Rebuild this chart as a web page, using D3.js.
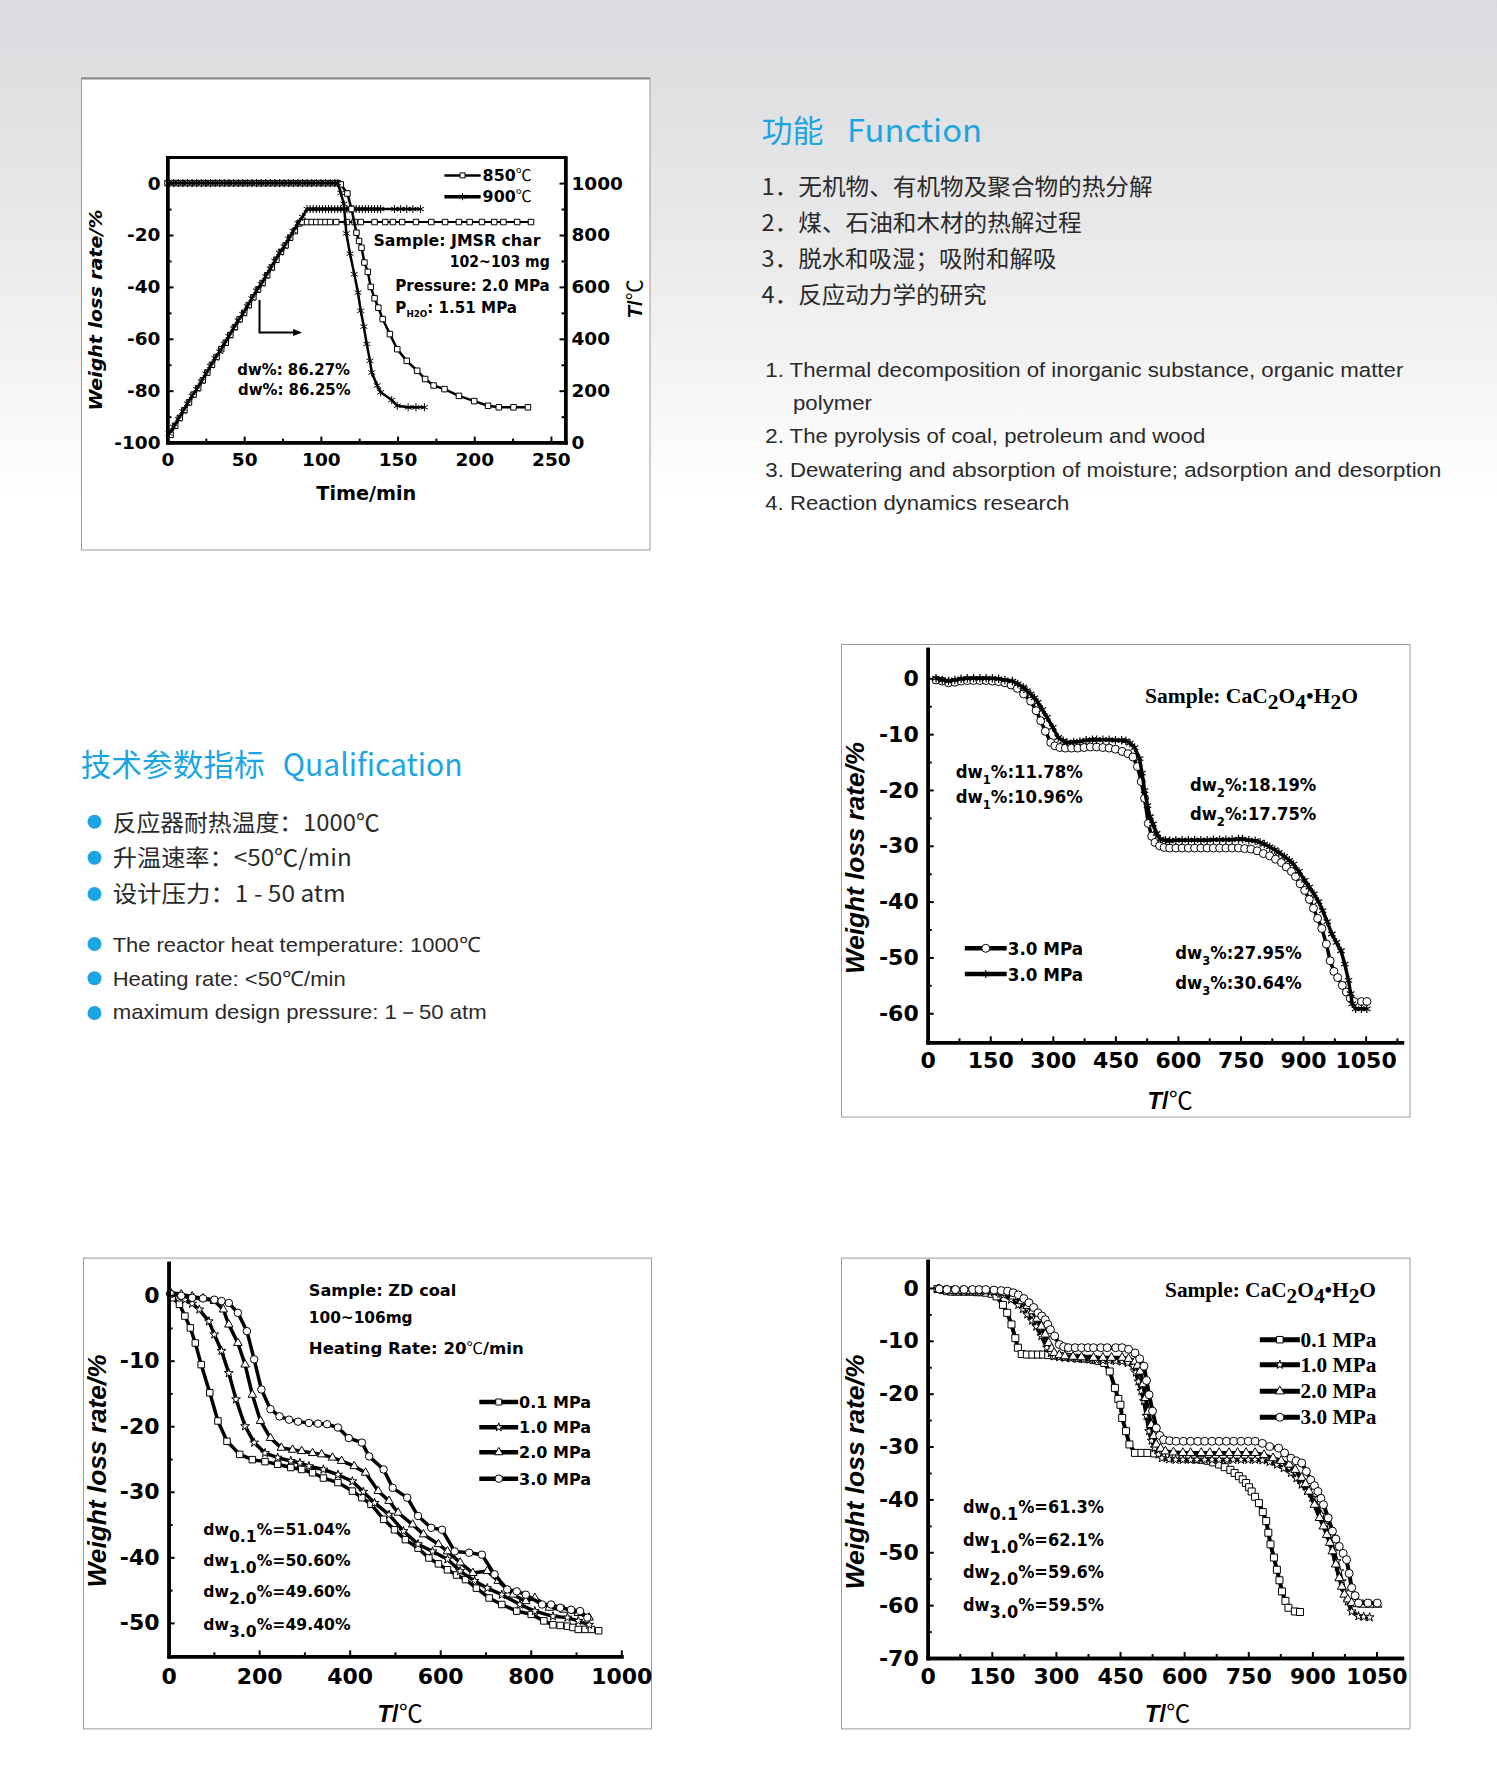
<!DOCTYPE html>
<html><head><meta charset="utf-8">
<script src="https://cdn.jsdelivr.net/npm/d3@7"></script>
<style>html,body{margin:0;padding:0;background:#fff}svg{display:block}</style>
</head><body>
<svg id="page" width="1497" height="1788"></svg>
<script>
// ---------------- page text ----------------
const funcTitleZh = "功能", funcTitleEn = "Function";
const funcZh = ["1．无机物、有机物及聚合物的热分解", "2．煤、石油和木材的热解过程", "3．脱水和吸湿；吸附和解吸", "4．反应动力学的研究"];
const funcEn = ["1. Thermal decomposition of inorganic substance, organic matter", "polymer", "2. The pyrolysis of coal, petroleum and wood", "3. Dewatering and absorption of moisture; adsorption and desorption", "4. Reaction dynamics research"];
const qualTitleZh = "技术参数指标", qualTitleEn = "Qualification";
const qualZh = ["反应器耐热温度：1000℃", "升温速率：<50℃/min", "设计压力：1 - 50 atm"];
const qualEn = ["The reactor heat temperature: 1000℃", "Heating rate: <50℃/min", "maximum design pressure: 1－50 atm"];

// ---------------- chart 1 : JMSR char (time, weight / temperature) ----------------
const c1XTicks = [0, 50, 100, 150, 200, 250];
const c1XMinor = [25, 75, 125, 175, 225];
const c1YTicks = [0, -20, -40, -60, -80, -100];
const c1YMinor = [-10, -30, -50, -70, -90];
const c1TTicks = [0, 200, 400, 600, 800, 1000];
const c1TMinor = [100, 300, 500, 700, 900];
const c1Legend = ["850℃", "900℃"];
const c1W850 = [[0,0],[3,0],[6,0],[9,0],[12,0],[15,0],[18,0],[21,0],[24,0],[27,0],[30,0],[33,0],[36,0],[39,0],[42,0],[45,0],[48,0],[51,0],[54,0],[57,0],[60,0],[63,0],[66,0],[69,0],[72,0],[75,0],[78,0],[81,0],[84,0],[87,0],[90,0],[93,0],[96,0],[99,0],[102,0],[105,0],[108,0],[111,0],[113,-0.5],[117.3,-4],[120,-10],[123.2,-19.1],[124.9,-22.3],[126.5,-24.9],[128.4,-30.6],[130.6,-34.2],[132.5,-40],[135,-44.4],[137.5,-48],[140.3,-52.4],[145,-58.2],[149.8,-64],[156,-68.5],[162.8,-72.3],[168,-75.5],[173.5,-78],[180.6,-79.4],[190,-82],[200,-84],[209,-85.8],[216,-86.4],[225.6,-86.4],[235,-86.4]];
const c1W900 = [[1,0],[4,0],[7,0],[10,0],[13,0],[16,0],[19,0],[22,0],[25,0],[28,0],[31,0],[34,0],[37,0],[40,0],[43,0],[46,0],[49,0],[52,0],[55,0],[58,0],[61,0],[64,0],[67,0],[70,0],[73,0],[76,0],[79,0],[82,0],[85,0],[88,0],[91,0],[94,0],[97,0],[100,0],[103,0],[106,0],[109,0],[111,0],[113,-3.8],[115,-8],[116.6,-19.4],[119,-27.2],[121.8,-35.1],[124.2,-42.2],[126,-49.2],[128,-55.3],[129.9,-62],[132,-68.5],[133.2,-73],[136.7,-78],[139,-80.6],[146.2,-83.6],[149.8,-85.8],[156.9,-86.4],[162,-86.4],[167.5,-86.4]];
const c1T850 = [[2,30],[5,65],[8,95],[11,125],[14,155],[17,185],[20,210],[23,240],[26,270],[29,300],[32,330],[35,360],[38,385],[41,415],[44,445],[47,475],[50,500],[53,530],[56,560],[59,590],[62,615],[65,645],[68,675],[71,705],[74,735],[77,760],[80,790],[83,815],[86,845],[88,850],[91,850],[94,850],[97,850],[100,850],[103,850],[106,850],[110,850],[117,850],[122,850],[126,850],[135,850],[142,850],[147,850],[153,850],[162,850],[172,850],[181,850],[190,850],[197,850],[205,850],[213,850],[219,850],[228,850],[237,850]];
const c1T900 = [[1,35],[4,60],[7,90],[10,120],[13,150],[16,180],[19,205],[22,235],[25,265],[28,295],[31,325],[34,350],[37,380],[40,410],[43,440],[46,470],[49,495],[52,525],[55,555],[58,585],[61,610],[64,640],[67,670],[70,700],[73,730],[76,755],[79,785],[82,815],[85,845],[88,870],[91,900],[93,900],[95,900],[97,900],[99,900],[101,900],[103,900],[105,900],[107,900],[109,900],[111,900],[113,900],[115,900],[117,900],[119,900],[121,900],[123,900],[125,900],[127,900],[129,900],[131,900],[133,900],[135,900],[137,900],[139,900],[148,900],[152,900],[156,900],[160,900],[165,900]];
const c1Arrow = [[60,-45],[60,-57.6],[85.8,-57.6]];

// ---------------- chart 2 : CaC2O4·H2O, 3.0 MPa twice ----------------
const c2XTicks = [0, 150, 300, 450, 600, 750, 900, 1050];
const c2XMinor = [75, 225, 375, 525, 675, 825, 975, 1125];
const c2YTicks = [0, -10, -20, -30, -40, -50, -60];
const c2YMinor = [-5, -15, -25, -35, -45, -55];
const c2Legend = ["3.0 MPa", "3.0 MPa"];
const c2Circ = [[20,-0.3],[35,-0.5],[50,-0.8],[65,-0.7],[80,-0.5],[95,-0.4],[110,-0.4],[125,-0.4],[140,-0.4],[155,-0.5],[170,-0.6],[185,-0.8],[200,-1.2],[215,-1.8],[230,-2.8],[247,-4.1],[260,-5.8],[271,-7.6],[282,-9.5],[295,-11.5],[305,-12.1],[317,-12.4],[330,-12.5],[345,-12.5],[360,-12.5],[375,-12.4],[390,-12.3],[405,-12.3],[420,-12.4],[435,-12.5],[450,-12.7],[466,-13.1],[480,-13.5],[492,-14.1],[503,-15.8],[512,-18.5],[520,-21.5],[529,-26],[537,-28.3],[545,-29.4],[556,-30],[567,-30.3],[580,-30.4],[595,-30.4],[610,-30.4],[625,-30.4],[640,-30.4],[655,-30.4],[670,-30.4],[685,-30.4],[700,-30.4],[715,-30.4],[730,-30.4],[745,-30.4],[760,-30.5],[775,-30.6],[790,-30.9],[805,-31.4],[820,-31.8],[834,-32.4],[848,-33],[860,-33.8],[872,-34.6],[882,-35.5],[893,-36.8],[904,-38],[915,-39.6],[925,-41.2],[935,-43],[945,-44.8],[956,-47.6],[965,-50.6],[974,-52.5],[983,-53.6],[994,-55],[1004,-56.2],[1013,-57.3],[1022,-57.9],[1040,-57.9],[1053,-57.9]];
const c2Ast = [[20,0],[35,-0.3],[50,-0.5],[65,-0.3],[80,-0.1],[95,0],[110,0],[125,0],[140,0],[155,0],[170,-0.1],[185,-0.3],[203,-0.5],[216,-1],[229,-1.6],[238,-2.2],[247,-2.8],[256,-3.5],[264,-4.3],[275,-5.6],[286,-7],[300,-8.8],[313,-10.6],[325,-11.2],[334,-11.5],[350,-11.4],[365,-11.3],[380,-11.1],[395,-11],[405,-11],[420,-11],[435,-11],[450,-11.1],[465,-11.1],[475,-11.2],[485,-11.6],[496,-12.4],[508,-14.4],[514,-17],[520,-20.1],[527,-22.8],[533,-24.8],[540,-26.1],[549,-27.8],[558,-28.8],[570,-29],[580,-29.1],[595,-29],[610,-29],[625,-29],[640,-29],[655,-29],[670,-29],[685,-28.9],[700,-28.9],[715,-28.9],[730,-28.9],[745,-28.8],[755,-28.8],[770,-29],[785,-29.1],[797,-29.4],[807,-29.7],[820,-30.2],[832,-30.7],[842,-31.2],[855,-31.9],[867,-32.6],[877,-33.3],[890,-34.6],[904,-36.2],[915,-37.4],[926,-38.6],[937,-40],[947,-41.6],[958,-43.6],[969,-45.8],[980,-47.3],[991,-48.8],[1000,-51.2],[1009,-54.1],[1014,-56.5],[1018,-58.3],[1026,-59.2],[1040,-59.2],[1053,-59.2]];

// ---------------- chart 3 : ZD coal ----------------
const c3XTicks = [0, 200, 400, 600, 800, 1000];
const c3XMinor = [100, 300, 500, 700, 900];
const c3YTicks = [0, -10, -20, -30, -40, -50];
const c3YMinor = [-5, -15, -25, -35, -45];
const c3Legend = ["0.1 MPa", "1.0 MPa", "2.0 MPa", "3.0 MPa"];
const c3Sq = [[8,-0.4],[24,-1.4],[36,-3.2],[48,-5],[59,-7.3],[72,-10.6],[91,-14.9],[109,-19.2],[129,-22.3],[157,-24.3],[185,-25.1],[213,-25.4],[241,-25.8],[270,-26.3],[294,-26.6],[318,-27.1],[342,-27.9],[374,-28.6],[406,-29.9],[427,-30.9],[447,-31.9],[475,-34.2],[499,-35.8],[523,-37.3],[551,-38.6],[575,-40.1],[596,-41],[616,-41.9],[636,-42.7],[656,-43.4],[680,-44.7],[708,-46.2],[736,-47.2],[769,-48.2],[801,-48.7],[829,-49.7],[849,-50.3],[865,-50.4],[881,-50.5],[893,-50.7],[905,-51],[920,-51],[934,-51],[950,-51.2]];
const c3Star = [[4,0.2],[20,-0.2],[36,-0.7],[52,-1.3],[68,-2.2],[89,-4],[101,-6],[117,-8.5],[133,-11.9],[149,-15.9],[169,-20],[189,-22.5],[213,-24.1],[241,-24.8],[270,-25.3],[290,-25.6],[310,-26.1],[342,-26.6],[374,-27.4],[406,-28.4],[430,-30],[455,-31.7],[487,-33.5],[519,-36],[551,-38],[583,-39.1],[616,-40.3],[644,-42.1],[676,-43.6],[704,-44.7],[736,-45.7],[776,-47.2],[809,-48.2],[849,-49],[881,-49.2],[905,-49.7],[929,-50.3]];
const c3Tri = [[4,0.4],[28,0.1],[52,-0.2],[76,-0.5],[101,-0.9],[121,-2.2],[133,-4.5],[153,-7.3],[169,-10.6],[185,-15.2],[203,-19.2],[225,-21.8],[249,-23.3],[274,-23.6],[294,-23.8],[318,-24.1],[338,-24.3],[362,-24.8],[382,-25.3],[410,-26.1],[435,-27.1],[463,-29.9],[487,-31.4],[507,-33.2],[539,-35],[563,-36.5],[596,-38],[616,-39.1],[644,-40.8],[672,-42.4],[704,-42.1],[728,-43.6],[761,-45.7],[789,-46.7],[809,-46.2],[841,-47.7],[873,-48],[905,-48.5],[929,-49.2]];
const c3Circ = [[4,0.2],[28,-0.1],[52,-0.4],[76,-0.5],[101,-0.7],[117,-0.9],[133,-1.2],[153,-2.7],[173,-5.5],[189,-9.8],[205,-14.4],[225,-17.4],[245,-18.5],[266,-19],[286,-19.3],[310,-19.5],[330,-19.6],[350,-19.7],[374,-20.2],[398,-21.8],[427,-22.5],[443,-24.6],[475,-26.6],[495,-29.4],[527,-30.9],[551,-33.7],[580,-35.5],[604,-35.8],[632,-39.1],[664,-39.3],[692,-39.6],[720,-42.6],[748,-44.9],[769,-45.2],[789,-45.7],[825,-47.2],[845,-47.2],[865,-47.7],[889,-48],[909,-48.2],[925,-49.2]];

// ---------------- chart 4 : CaC2O4·H2O at 4 pressures ----------------
const c4XTicks = [0, 150, 300, 450, 600, 750, 900, 1050];
const c4XMinor = [75, 225, 375, 525, 675, 825, 975];
const c4YTicks = [0, -10, -20, -30, -40, -50, -60, -70];
const c4YMinor = [-5, -15, -25, -35, -45, -55, -65];
const c4Legend = ["0.1 MPa", "1.0 MPa", "2.0 MPa", "3.0 MPa"];
const c4Sq = [[23,-0.2],[35,-0.4],[45,-0.6],[55,-0.7],[65,-0.7],[75,-0.7],[85,-0.7],[95,-0.7],[105,-0.7],[115,-0.8],[125,-0.8],[136,-0.9],[150,-1.1],[161,-1.6],[176,-3.2],[186,-4.7],[196,-6.9],[205,-9.5],[211,-11.3],[220,-12.5],[232,-12.6],[245,-12.6],[258,-12.6],[270,-12.6],[282,-12.7],[295,-12.8],[308,-12.9],[320,-13],[333,-13.1],[346,-13.2],[360,-13.3],[375,-13.4],[388,-13.6],[400,-13.8],[413,-14.2],[426,-15.8],[438,-18.9],[446,-21],[451,-22.1],[455,-24.6],[464,-27.1],[472,-29.6],[485,-31.2],[500,-31.2],[514,-31.2],[530,-31.3],[548,-31.5],[565,-31.7],[580,-32],[597,-32.2],[612,-32.3],[626,-32.4],[640,-32.5],[655,-32.7],[668,-33],[682,-33.4],[695,-33.9],[708,-34.4],[718,-35],[728,-35.6],[737,-36.2],[745,-36.9],[752,-37.7],[758,-38.5],[766,-39.5],[775,-40.7],[784,-42.4],[792,-44.1],[797,-46.3],[802,-48.5],[810,-51],[817,-53.3],[823,-55.3],[829,-57.4],[837,-59.2],[844,-60.5],[859,-61.2],[871,-61.3]];
const c4Star = [[23,-0.2],[40,-0.4],[55,-0.5],[70,-0.6],[85,-0.6],[100,-0.6],[118,-0.6],[136,-0.6],[155,-0.8],[170,-1.1],[178,-1.3],[195,-2.2],[212,-3.2],[223,-4],[233,-5],[244,-6.2],[254,-7.3],[266,-9.1],[279,-11.3],[288,-12.3],[296,-12.9],[308,-13.1],[321,-13.2],[335,-13.3],[350,-13.4],[365,-13.5],[380,-13.5],[395,-13.6],[410,-13.7],[425,-13.7],[440,-13.8],[455,-13.9],[468,-14.2],[481,-14.8],[487,-16],[493,-17.7],[500,-19.5],[506,-21.4],[512,-24.2],[518,-27.1],[524,-28.9],[531,-30.3],[540,-31.5],[548,-32.2],[565,-32.4],[580,-32.5],[597,-32.5],[615,-32.5],[630,-32.5],[648,-32.5],[665,-32.5],[682,-32.5],[700,-32.5],[715,-32.5],[733,-32.5],[750,-32.5],[766,-32.5],[783,-32.6],[800,-32.9],[817,-33.4],[833,-34.1],[850,-35],[863,-36],[875,-37.2],[888,-38.4],[900,-39.7],[911,-41.2],[921,-42.9],[930,-44.8],[938,-46.7],[944,-48.2],[950,-49.8],[957,-51.7],[963,-53.6],[969,-55.5],[975,-57.4],[983,-59.3],[992,-61.2],[1008,-62.1],[1020,-62.2],[1034,-62.3]];
const c4Tri = [[27,-0.2],[45,-0.4],[60,-0.5],[80,-0.5],[100,-0.6],[118,-0.6],[136,-0.6],[155,-0.7],[178,-0.9],[200,-1.6],[220,-2.5],[233,-3.4],[245,-4.4],[256,-5.8],[266,-7.3],[275,-8.8],[283,-10.4],[290,-11.5],[296,-12.3],[308,-12.7],[321,-12.9],[340,-13],[360,-13.1],[388,-13.2],[410,-13.2],[430,-13.2],[455,-13.2],[470,-13.4],[485,-13.9],[491,-14.7],[497,-15.8],[504,-18.2],[510,-20.8],[516,-23.4],[523,-25.9],[529,-28],[535,-29.6],[545,-30.4],[556,-30.9],[575,-31.1],[597,-31.2],[615,-31.2],[640,-31.2],[660,-31.2],[682,-31.2],[705,-31.2],[725,-31.2],[745,-31.2],[766,-31.2],[787,-31.6],[808,-32.2],[827,-32.7],[846,-33.4],[860,-34.4],[875,-35.9],[884,-37.1],[892,-38.5],[905,-41],[917,-43.5],[926,-45.1],[934,-46.7],[941,-48.2],[947,-49.8],[955,-52.3],[963,-54.9],[969,-56.5],[975,-58],[983,-58.9],[992,-59.6],[1005,-59.8],[1018,-59.9],[1035,-59.9],[1052,-59.9]];
const c4Circ = [[27,-0.2],[45,-0.3],[65,-0.3],[85,-0.3],[105,-0.3],[120,-0.3],[136,-0.3],[155,-0.4],[172,-0.5],[187,-0.6],[200,-0.9],[212,-1.3],[225,-2],[237,-2.8],[248,-3.7],[258,-4.7],[267,-5.3],[275,-6],[281,-6.9],[287,-7.9],[297,-9.1],[308,-10.7],[318,-11.1],[329,-11.3],[345,-11.3],[360,-11.3],[375,-11.3],[388,-11.3],[405,-11.3],[420,-11.3],[440,-11.3],[455,-11.3],[470,-11.6],[485,-12.3],[496,-13.4],[506,-14.8],[512,-17.5],[518,-20.2],[526,-23.3],[535,-26.5],[543,-27.9],[552,-28.7],[566,-28.9],[581,-29],[598,-29],[615,-29],[632,-29],[648,-29],[665,-29],[682,-29],[699,-29],[716,-29],[733,-29],[750,-29],[766,-29],[783,-29.4],[800,-30],[821,-30.3],[835,-31.2],[850,-32.2],[862,-32.7],[875,-33.1],[886,-34.7],[896,-36.3],[905,-37.4],[913,-38.5],[920,-39.8],[926,-41],[937,-43.5],[947,-46],[955,-47.5],[963,-48.9],[972,-50.2],[980,-51.4],[986,-54],[992,-56.7],[1000,-58.2],[1008,-59.6],[1030,-59.6],[1052,-59.6]];

// ---------------- drawing ----------------
const SANS = "'Liberation Sans', Arial, sans-serif";
const DEJA = "'DejaVu Sans', sans-serif";
const SERIF = "'Liberation Serif', 'Times New Roman', serif";
const CJK = "'Noto Sans CJK SC', 'Noto Sans', sans-serif";
const CYAN = "#1ba5e3", DARK = "#2a2a2a";

const svg = d3.select('#page');
const defs = svg.append('defs');
const grad = defs.append('linearGradient').attr('id', 'bg').attr('x1', 0).attr('y1', 0).attr('x2', 0).attr('y2', 1);
grad.append('stop').attr('offset', '0%').attr('stop-color', '#dadbde');
grad.append('stop').attr('offset', '45%').attr('stop-color', '#e8e8e9');
grad.append('stop').attr('offset', '100%').attr('stop-color', '#ffffff');
svg.append('rect').attr('width', 1497).attr('height', 1788).attr('fill', '#fff');
svg.append('rect').attr('width', 1497).attr('height', 500).attr('fill', 'url(#bg)');

function txt(g, x, y, parts, o) {
  const t = g.append('text').attr('x', x).attr('y', y)
    .attr('font-family', o.family || SANS).attr('font-size', o.size)
    .attr('font-weight', o.weight || 'normal').attr('fill', o.fill || '#000')
    .attr('text-anchor', o.anchor || 'start');
  if (o.italic) t.attr('font-style', 'italic');
  if (typeof parts === 'string') parts = [[parts]];
  parts.forEach(p => {
    const s = t.append('tspan').text(p[0]);
    if (p[1]) Object.entries(p[1]).forEach(([k, v]) => s.attr(k, v));
  });
  if (o.len) t.attr('textLength', o.len).attr('lengthAdjust', 'spacingAndGlyphs');
  if (o.rotate) t.attr('transform', `rotate(${o.rotate},${x},${y})`);
  return t;
}

// ---- page texts ----
const pg = svg.append('g');
txt(pg, 761.6, 142, funcTitleZh, {family: CJK, size: 31, fill: CYAN});
txt(pg, 847, 142, funcTitleEn, {family: CJK, size: 31, fill: CYAN, len: 135});
const fzY = [195, 231, 267, 303.3], fzL = [391, 320, 295, 225];
funcZh.forEach((s, i) => txt(pg, 761.6, fzY[i], s, {family: CJK, size: 23, fill: DARK, len: fzL[i]}));
const feX = [765.3, 793, 765.3, 765.3, 765.3], feY = [376.5, 409.5, 443, 476.5, 510], feL = [638, 79, 440, 676, 304];
funcEn.forEach((s, i) => txt(pg, feX[i], feY[i], s, {family: SANS, size: 20.5, fill: DARK, len: feL[i]}));

txt(pg, 80.7, 776, qualTitleZh, {family: CJK, size: 30.5, fill: CYAN, len: 184});
txt(pg, 282.7, 776, qualTitleEn, {family: CJK, size: 31, fill: CYAN, len: 180});
const qzY = [830.5, 865.7, 902.3], qzC = [821.7, 857.7, 894], qzL = [267, 239, 233];
qualZh.forEach((s, i) => {
  pg.append('circle').attr('cx', 94.5).attr('cy', qzC[i]).attr('r', 7).attr('fill', CYAN);
  txt(pg, 112.7, qzY[i], s, {family: CJK, size: 23, fill: DARK, len: qzL[i]});
});
const qeY = [951.7, 985.7, 1019], qeC = [944, 978.3, 1013], qeL = [368, 233, 374];
qualEn.forEach((s, i) => {
  pg.append('circle').attr('cx', 94.5).attr('cy', qeC[i]).attr('r', 7).attr('fill', CYAN);
  txt(pg, 112.7, qeY[i], s, {family: SANS, size: 21, fill: DARK, len: qeL[i]});
});

// ---- chart helpers ----
function markerPath(type, s) {
  switch (type) {
    case 'square': return d3.symbol(d3.symbolSquare, s * s)();
    case 'circle': return d3.symbol(d3.symbolCircle, Math.PI * s * s / 4)();
    case 'triangle': return d3.symbol(d3.symbolTriangle, s * s * 0.433)();
    case 'star': return d3.symbol(d3.symbolStar, s * s * 0.3)();
    case 'asterisk': {
      const r = s / 2, a = r * 0.866, b = r * 0.5;
      return `M0,${-r}L0,${r}M${-a},${-b}L${a},${b}M${-a},${b}L${a},${-b}`;
    }
  }
}
function series(g, x, y, data, o) {
  const line = d3.line().x(d => x(d[0])).y(d => y(d[1]));
  g.append('path').datum(data).attr('d', line).attr('fill', 'none')
    .attr('stroke', '#000').attr('stroke-width', o.lw).attr('stroke-linejoin', 'round');
  const p = markerPath(o.marker, o.ms);
  g.append('g').selectAll('path').data(data).enter().append('path').attr('d', p)
    .attr('transform', d => `translate(${x(d[0])},${y(d[1])})`)
    .attr('fill', o.marker === 'asterisk' ? 'none' : '#fff')
    .attr('stroke', '#000').attr('stroke-width', o.mw || 1);
}
function legendItem(g, x1, x2, y, o) {
  g.append('line').attr('x1', x1).attr('x2', x2).attr('y1', y).attr('y2', y)
    .attr('stroke', '#000').attr('stroke-width', o.lw);
  g.append('path').attr('d', markerPath(o.marker, o.ms)).attr('transform', `translate(${(x1 + x2) / 2},${y})`)
    .attr('fill', o.marker === 'asterisk' ? 'none' : '#fff').attr('stroke', '#000').attr('stroke-width', o.mw || 1);
}
function styleAxis(sel, o) {
  sel.attr('font-family', o.family).attr('font-size', o.size).attr('font-weight', 'bold');
  sel.select('.domain').attr('stroke', '#000').attr('stroke-width', o.dw).attr('stroke-linecap', 'square');
  sel.selectAll('.tick line').attr('stroke', '#000').attr('stroke-width', 2);
  sel.selectAll('.tick text').attr('fill', '#000');
}
function box(b) {
  svg.append('rect').attr('x', b[0] + 0.5).attr('y', b[1] + 0.5).attr('width', b[2] - b[0]).attr('height', b[3] - b[1])
    .attr('fill', '#fff').attr('stroke', '#9c9c9c').attr('stroke-width', 1);
}
function axesLB(g, x, y, o) {
  const fmt = d => String(d);
  const by = y.range()[0], lx = x.range()[0];
  const bx = g.append('g').attr('transform', `translate(0,${by})`)
    .call(d3.axisBottom(x).tickValues(o.xt).tickSize(-6).tickSizeOuter(0).tickPadding(o.xp).tickFormat(fmt));
  styleAxis(bx, o);
  const bxm = g.append('g').attr('transform', `translate(0,${by})`)
    .call(d3.axisBottom(x).tickValues(o.xm).tickSize(-4).tickSizeOuter(0).tickFormat(''));
  styleAxis(bxm, o);
  const ly = g.append('g').attr('transform', `translate(${lx},0)`)
    .call(d3.axisLeft(y).tickValues(o.yt).tickSize(-6).tickSizeOuter(0).tickPadding(o.yp).tickFormat(fmt));
  styleAxis(ly, o);
  const lym = g.append('g').attr('transform', `translate(${lx},0)`)
    .call(d3.axisLeft(y).tickValues(o.ym).tickSize(-4).tickSizeOuter(0).tickFormat(''));
  styleAxis(lym, o);
}
function yLabel(g, x, y, size, len) {
  txt(g, x, y, [["Weight loss rate/%"]], {family: SANS, size: size, weight: 'bold', italic: true, anchor: 'middle', rotate: -90, len: len});
}
function tLabel(g, x, y, size, rotate) {
  const t = txt(g, x, y, [["T", {'font-weight': 'bold', 'font-style': 'italic'}], ["/", {'font-weight': 'bold'}], ["℃", {'font-family': CJK}]],
    {family: SANS, size: size, anchor: 'middle'});
  if (rotate) t.attr('transform', `rotate(${rotate},${x},${y})`);
}

// ================= CHART 1 =================
box([81, 77.5, 649.5, 549.5]);
svg.append('line').attr('x1', 81).attr('x2', 650).attr('y1', 78.5).attr('y2', 78.5).attr('stroke', '#8a8a8a').attr('stroke-width', 2);
{
  const g = svg.append('g');
  const x = d3.scaleLinear().domain([0, 259.5]).range([167.5, 565.5]);
  const y = d3.scaleLinear().domain([-100, 9.87]).range([442.6, 157.5]);
  const t = d3.scaleLinear().domain([0, 1098.7]).range([442.6, 157.5]);
  series(g, x, t, c1T850, {marker: 'square', ms: 5.5, lw: 2});
  series(g, x, t, c1T900, {marker: 'asterisk', ms: 8, lw: 2.5});
  series(g, x, y, c1W850, {marker: 'square', ms: 5.5, lw: 2.5});
  series(g, x, y, c1W900, {marker: 'asterisk', ms: 8, lw: 2.5});
  const ap = d3.line().x(d => x(d[0])).y(d => y(d[1]));
  g.append('path').datum(c1Arrow).attr('d', ap).attr('fill', 'none').attr('stroke', '#000').attr('stroke-width', 2);
  const ae = c1Arrow[c1Arrow.length - 1];
  g.append('path').attr('d', `M${x(ae[0]) + 3},${y(ae[1])}l-9,-3.5l0,7z`).attr('fill', '#000');
  g.append('rect').attr('x', 167.5).attr('y', 157.5).attr('width', 565.5 - 167.5).attr('height', 442.6 - 157.5)
    .attr('fill', 'none').attr('stroke', '#000').attr('stroke-width', 3);
  const o = {family: DEJA, size: 18.5, dw: 3, xp: 10, yp: 7, xt: c1XTicks, xm: c1XMinor, yt: c1YTicks, ym: c1YMinor};
  axesLB(g, x, y, o);
  const ra = g.append('g').attr('transform', 'translate(565.5,0)')
    .call(d3.axisRight(t).tickValues(c1TTicks).tickSize(-6).tickSizeOuter(0).tickPadding(6).tickFormat(d => String(d)));
  styleAxis(ra, o);
  const ram = g.append('g').attr('transform', 'translate(565.5,0)')
    .call(d3.axisRight(t).tickValues(c1TMinor).tickSize(-4).tickSizeOuter(0).tickFormat(''));
  styleAxis(ram, o);
  legendItem(g, 444.4, 480.7, 175.4, {marker: 'square', ms: 5, lw: 2.5});
  legendItem(g, 444.4, 480.7, 196.7, {marker: 'asterisk', ms: 7, lw: 3.5});
  txt(g, 482.6, 181, [[c1Legend[0].slice(0, 3)], [c1Legend[0].slice(3), {'font-family': CJK, 'font-weight': 'normal'}]], {family: DEJA, size: 15.5, weight: 'bold', len: 49});
  txt(g, 482.6, 202, [[c1Legend[1].slice(0, 3)], [c1Legend[1].slice(3), {'font-family': CJK, 'font-weight': 'normal'}]], {family: DEJA, size: 15.5, weight: 'bold', len: 49});
  const ao = {family: DEJA, size: 15.5, weight: 'bold'};
  txt(g, 373.5, 246, "Sample: JMSR char", Object.assign({len: 167}, ao));
  txt(g, 549.8, 267, "102~103 mg", Object.assign({len: 100, anchor: 'end'}, ao));
  txt(g, 549.8, 291, "Pressure: 2.0 MPa", Object.assign({len: 154.5, anchor: 'end'}, ao));
  txt(g, 395.3, 313.4, [["P"], ["H2O", {dy: 4, 'font-size': '9px'}], [": 1.51 MPa", {dy: -4}]], Object.assign({len: 121.7}, ao));
  txt(g, 237.3, 375, "dw%: 86.27%", Object.assign({len: 112.7}, ao));
  txt(g, 238, 395, "dw%: 86.25%", Object.assign({len: 112.7}, ao));
  txt(g, 366.3, 500, "Time/min", {family: DEJA, size: 19, weight: 'bold', anchor: 'middle', len: 100});
  txt(g, 102, 310, [["Weight loss rate/%"]], {family: DEJA, size: 18, weight: 'bold', italic: true, anchor: 'middle', rotate: -90, len: 201});
  tLabel(g, 642, 299, 21, -90);
}

// ================= CHART 2 =================
box([841, 644, 1409.5, 1116.5]);
{
  const g = svg.append('g');
  const x = d3.scaleLinear().domain([0, 1137]).range([927.7, 1401.9]);
  const y = d3.scaleLinear().domain([-65.2, 5.25]).range([1042.3, 649]);
  series(g, x, y, c2Circ, {marker: 'circle', ms: 8, lw: 3.5});
  series(g, x, y, c2Ast, {marker: 'asterisk', ms: 8.5, lw: 3.5, mw: 1.2});
  axesLB(g, x, y, {family: DEJA, size: 22, dw: 3.5, xp: 10, yp: 9, xt: c2XTicks, xm: c2XMinor, yt: c2YTicks, ym: c2YMinor});
  txt(g, 1145, 703, [["Sample:  CaC"], ["2", {dy: 6}], ["O", {dy: -6}], ["4", {dy: 6}], ["•H", {dy: -6}], ["2", {dy: 6}], ["O", {dy: -6}]],
    {family: SERIF, size: 20, weight: 'bold', len: 213});
  const dw = (x0, y0, sub, val, len) => txt(g, x0, y0, [["dw"], [sub, {dy: 6, 'font-size': '12px'}], ["%:" + val, {dy: -6}]], {family: DEJA, size: 17, weight: 'bold', len: len});
  dw(955.7, 778, "1", "11.78%", 127);
  dw(955.7, 803.3, "1", "10.96%", 127);
  dw(1189.9, 790.7, "2", "18.19%", 126.4);
  dw(1189.9, 820, "2", "17.75%", 126.4);
  dw(1175.3, 959, "3", "27.95%", 126.4);
  dw(1175.3, 989, "3", "30.64%", 126.4);
  legendItem(g, 964.8, 1006.7, 948.3, {marker: 'circle', ms: 8, lw: 4.5});
  legendItem(g, 964.8, 1006.7, 974, {marker: 'asterisk', ms: 8, lw: 4.5, mw: 1.2});
  txt(g, 1007.8, 955, c2Legend[0], {family: DEJA, size: 17.5, weight: 'bold', len: 75.4});
  txt(g, 1007.8, 980.7, c2Legend[1], {family: DEJA, size: 17.5, weight: 'bold', len: 75.4});
  yLabel(g, 863.6, 858, 25, 232);
  tLabel(g, 1170, 1109, 24, 0);
}

// ================= CHART 3 =================
box([83, 1257.6, 651, 1728.4]);
{
  const g = svg.append('g');
  const x = d3.scaleLinear().domain([0, 1000]).range([168.6, 621.3]);
  const y = d3.scaleLinear().domain([-55.1, 4.9]).range([1656.3, 1263]);
  series(g, x, y, c3Sq, {marker: 'square', ms: 6.5, lw: 3.5});
  series(g, x, y, c3Star, {marker: 'star', ms: 9, lw: 3.5});
  series(g, x, y, c3Tri, {marker: 'triangle', ms: 8.5, lw: 3.5});
  series(g, x, y, c3Circ, {marker: 'circle', ms: 7.5, lw: 3.5});
  axesLB(g, x, y, {family: DEJA, size: 22, dw: 3.5, xp: 12, yp: 9, xt: c3XTicks, xm: c3XMinor, yt: c3YTicks, ym: c3YMinor});
  const so = {family: DEJA, size: 15.5, weight: 'bold'};
  txt(g, 308.8, 1296.3, "Sample: ZD coal", Object.assign({len: 147.5}, so));
  txt(g, 308.8, 1323, "100~106mg", Object.assign({len: 103.8}, so));
  txt(g, 308.8, 1354, [["Heating Rate: 20"], ["℃", {'font-family': CJK, 'font-weight': 'normal'}], ["/min"]], Object.assign({len: 215}, so));
  const lm = ['square', 'star', 'triangle', 'circle'], lms = [6, 8.5, 8.5, 7.5], ly = [1402, 1427.3, 1452.3, 1478.7];
  c3Legend.forEach((s, i) => {
    legendItem(g, 479.3, 518.2, ly[i], {marker: lm[i], ms: lms[i], lw: 4.5});
    txt(g, 519, ly[i] + 6, s, {family: DEJA, size: 16.5, weight: 'bold', len: 72});
  });
  const dwS = ["0.1", "1.0", "2.0", "3.0"], dwV = ["51.04%", "50.60%", "49.60%", "49.40%"], dwY = [1534.7, 1566.3, 1597.3, 1629.7];
  dwS.forEach((s, i) => txt(g, 203.2, dwY[i], [["dw"], [s, {dy: 7}], ["%=" + dwV[i], {dy: -7}]], {family: DEJA, size: 16.5, weight: 'bold', len: 147.5}));
  yLabel(g, 105.6, 1471, 25, 233);
  tLabel(g, 400, 1722, 24, 0);
}

// ================= CHART 4 =================
box([841, 1257.6, 1409.5, 1728.4]);
{
  const g = svg.append('g');
  const x = d3.scaleLinear().domain([0, 1109.5]).range([927.7, 1401.9]);
  const y = d3.scaleLinear().domain([-70, 5.1]).range([1658, 1261]);
  series(g, x, y, c4Sq, {marker: 'square', ms: 7, lw: 4});
  series(g, x, y, c4Star, {marker: 'star', ms: 9, lw: 4});
  series(g, x, y, c4Tri, {marker: 'triangle', ms: 9, lw: 4});
  series(g, x, y, c4Circ, {marker: 'circle', ms: 8, lw: 4});
  axesLB(g, x, y, {family: DEJA, size: 22, dw: 3.5, xp: 10, yp: 9, xt: c4XTicks, xm: c4XMinor, yt: c4YTicks, ym: c4YMinor});
  txt(g, 1165, 1297.3, [["Sample:  CaC"], ["2", {dy: 6}], ["O", {dy: -6}], ["4", {dy: 6}], ["•H", {dy: -6}], ["2", {dy: 6}], ["O", {dy: -6}]],
    {family: SERIF, size: 20, weight: 'bold', len: 211});
  const lm = ['square', 'star', 'triangle', 'circle'], lms = [6.5, 9, 9, 8], ly = [1339.7, 1364.7, 1391.3, 1417.3];
  c4Legend.forEach((s, i) => {
    legendItem(g, 1259.8, 1299.9, ly[i], {marker: lm[i], ms: lms[i], lw: 5});
    txt(g, 1300.6, ly[i] + 7, s, {family: SERIF, size: 21, weight: 'bold', len: 75.7});
  });
  const dwS = ["0.1", "1.0", "2.0", "3.0"], dwV = ["61.3%", "62.1%", "59.6%", "59.5%"], dwY = [1513, 1546.3, 1578, 1610.7];
  dwS.forEach((s, i) => txt(g, 963, dwY[i], [["dw"], [s, {dy: 7}], ["%=" + dwV[i], {dy: -7}]], {family: DEJA, size: 17, weight: 'bold', len: 141}));
  yLabel(g, 863.6, 1472, 25, 235);
  tLabel(g, 1167.5, 1722, 24, 0);
}
</script>
</body></html>
